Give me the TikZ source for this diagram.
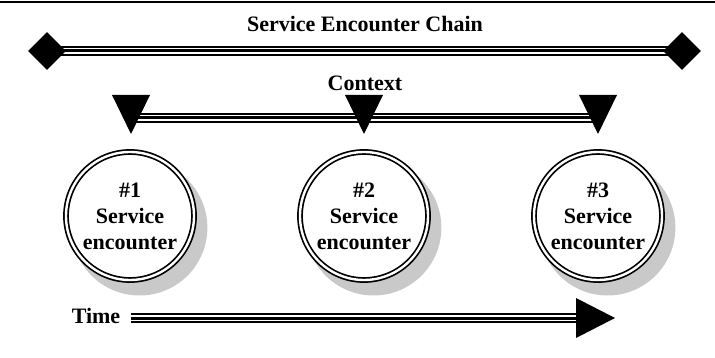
\documentclass[tikz,border=0pt]{standalone}
\usepackage{fontspec}
\setmainfont{Liberation Serif}
\usetikzlibrary{shapes.geometric,backgrounds,shadows}
\tikzset{
  triple/.style={draw=white, line width=6.5pt,
    preaction={draw=black, line width=10pt},
    postaction={draw=black, line width=3pt}},
  label/.style={font=\fontsize{22}{26}\selectfont\bfseries, inner sep=0pt, anchor=base},
  endmark/.style={diamond, fill=black, minimum width=38pt, minimum height=38pt, inner sep=0pt},
  encounter/.style={circle, minimum size=128pt, inner sep=0pt, fill=white,
    draw=black, line width=1.7pt, double=white, double distance=2.4pt,
    drop shadow={shadow xshift=9pt, shadow yshift=-11pt, shadow scale=1.06, fill=black!21, opacity=1},
    font=\fontsize{22}{26}\selectfont\bfseries, align=center},
  downtri/.pic={\fill (-19,-23) -- (19,-23) -- (0,16) -- cycle;},
}
\begin{document}
\begin{tikzpicture}[x=1pt,y=-1pt]
\useasboundingbox (0,0) rectangle (715,358);
\draw[line width=1.5pt] (0,2) -- (715,2);

% chain
\node[label] (chain) at (365,32) {Service Encounter Chain};
\node[endmark] (dL) at (47,51) {};
\node[endmark] (dR) at (682,51) {};
\begin{scope}[on background layer]
  \draw[triple] (dL.center) -- (dR.center);
\end{scope}

% context
\node[label] (ctx) at (365,91) {Context};
\coordinate (t1) at (131,118);
\coordinate (t2) at (364,118);
\coordinate (t3) at (598,118);
\draw[triple] (t1) -- (t3);
\pic at (t1) {downtri};
\pic at (t2) {downtri};
\pic at (t3) {downtri};

% encounters
\node[encounter] (e1) at (130,216) {\#1\\Service\\encounter};
\node[encounter] (e2) at (364,216) {\#2\\Service\\encounter};
\node[encounter] (e3) at (598,216) {\#3\\Service\\encounter};

% time
\node[label] (time) at (96,323) {Time};
\coordinate (tS) at (131,318);
\coordinate (tE) at (576,318);
\draw[triple] (tS) -- ([xshift=2pt]tE);
\fill[shift={(tE)}] (0,-20) -- (39,0) -- (0,20) -- cycle;
\end{tikzpicture}
\end{document}
